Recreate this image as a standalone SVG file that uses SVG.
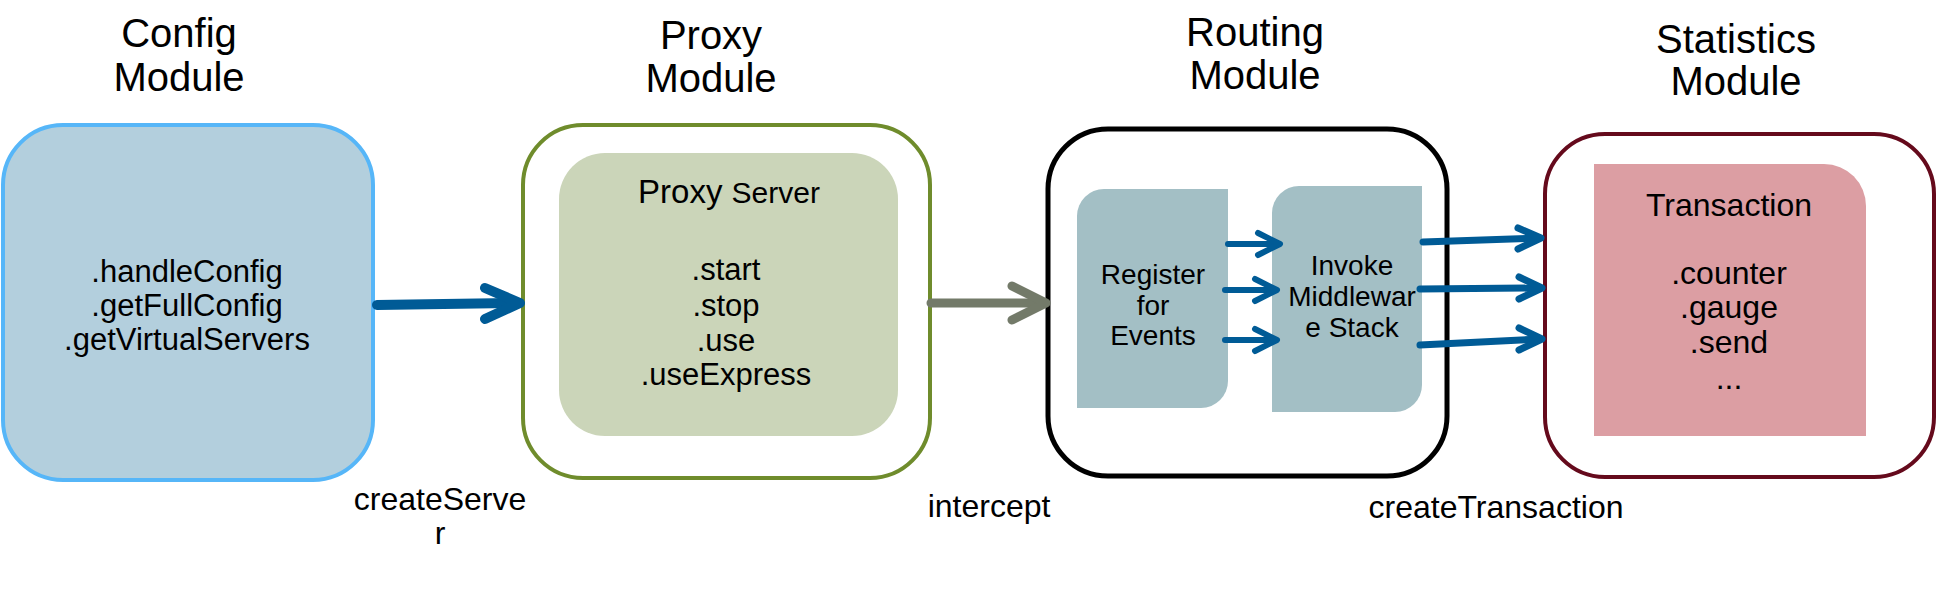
<svg xmlns="http://www.w3.org/2000/svg" width="1937" height="601" viewBox="0 0 1937 601">
<style>
text{font-family:"Liberation Sans",Arial,sans-serif;fill:#000;text-anchor:middle}
.title{font-size:40px}
.body{font-size:31px}
.small{font-size:28px}
.lbl{font-size:32px}
.blue{stroke:#005b96;fill:none;stroke-linecap:round;stroke-linejoin:round}
.grey{stroke:#737a69;fill:none;stroke-linecap:round;stroke-linejoin:round}
</style>
<rect width="1937" height="601" fill="#fff"/>
<g id="config">
<rect x="3" y="125" width="370" height="355" rx="60" ry="60" fill="#b3cfdd" stroke="#56b6f8" stroke-width="4"/>
<text class="title" x="179" y="47">Config</text>
<text class="title" x="179" y="91">Module</text>
<text class="body" x="187" y="282">.handleConfig</text>
<text class="body" x="187" y="316">.getFullConfig</text>
<text class="body" x="187" y="350">.getVirtualServers</text>
</g>
<g id="proxy">
<rect x="523" y="125" width="407" height="353" rx="60" ry="60" fill="#fff" stroke="#6f8c2c" stroke-width="4"/>
<rect x="559" y="153" width="339" height="283" rx="46" ry="46" fill="#cbd5b9"/>
<text class="title" x="711" y="49">Proxy</text>
<text class="title" x="711" y="92">Module</text>
<text x="729" y="203" font-size="33">Proxy <tspan font-size="30">Server</tspan></text>
<text class="body" x="726" y="280">.start</text>
<text class="body" x="726" y="316">.stop</text>
<text class="body" x="726" y="351">.use</text>
<text class="body" x="726" y="385">.useExpress</text>
</g>
<g id="routing">
<rect x="1048" y="129" width="399" height="347" rx="60" ry="60" fill="#fff" stroke="#000" stroke-width="5"/>
<text class="title" x="1255" y="46">Routing</text>
<text class="title" x="1255" y="89">Module</text>
</g>
<g id="register">
<path d="M1077,408 L1077,216 A27,27 0 0 1 1104,189 L1228,189 L1228,381 A27,27 0 0 1 1201,408 Z" fill="#a3bfc5"/>
<text class="small" x="1153" y="284">Register</text>
<text class="small" x="1153" y="315">for</text>
<text class="small" x="1153" y="345">Events</text>
</g>
<g id="invoke">
<path d="M1272,412 L1272,213 A27,27 0 0 1 1299,186 L1422,186 L1422,385 A27,27 0 0 1 1395,412 Z" fill="#a3bfc5"/>
<text class="small" x="1352" y="275">Invoke</text>
<text class="small" x="1352" y="306">Middlewar</text>
<text class="small" x="1352" y="337">e Stack</text>
</g>
<g id="statistics">
<rect x="1545" y="134" width="389" height="343" rx="60" ry="60" fill="#fff" stroke="#650a1c" stroke-width="4"/>
<text class="title" x="1736" y="53">Statistics</text>
<text class="title" x="1736" y="95">Module</text>
</g>
<g id="transaction">
<path d="M1594,164 L1824,164 A42,42 0 0 1 1866,206 L1866,436 L1594,436 Z" fill="#dc9ea3"/>
<text x="1729" y="216" font-size="32">Transaction</text>
<text x="1729" y="284" font-size="32">.counter</text>
<text x="1729" y="318" font-size="32">.gauge</text>
<text x="1729" y="353" font-size="32">.send</text>
<text x="1729" y="389" font-size="32">...</text>
</g>
<g id="connectors">
<path class="blue" d="M377,305 L517,303" stroke-width="10" stroke-linecap="butt"/>
<path class="blue" d="M485,288 L520,303 L485,319" stroke-width="10"/>
<path class="grey" d="M931,303 L1044,303" stroke-width="9" stroke-linecap="butt"/>
<path class="grey" d="M1012,286 L1046,303 L1012,320" stroke-width="9"/>
<path class="blue" d="M1228,244 L1278,244" stroke-width="6" stroke-linecap="butt"/>
<path class="blue" d="M1258,233 L1280,244 L1258,255" stroke-width="6"/>
<path class="blue" d="M1225,290 L1275,290" stroke-width="6" stroke-linecap="butt"/>
<path class="blue" d="M1255,279 L1277,290 L1255,301" stroke-width="6"/>
<path class="blue" d="M1225,340 L1275,340" stroke-width="6" stroke-linecap="butt"/>
<path class="blue" d="M1255,329 L1277,340 L1255,351" stroke-width="6"/>
<path class="blue" d="M1423,242 L1539,238" stroke-width="7" stroke-linecap="butt"/>
<path class="blue" d="M1518,228 L1541,238 L1518,249" stroke-width="7"/>
<path class="blue" d="M1420,289 L1540,288" stroke-width="7" stroke-linecap="butt"/>
<path class="blue" d="M1519,277 L1542,288 L1519,299" stroke-width="7"/>
<path class="blue" d="M1420,345 L1540,339" stroke-width="7" stroke-linecap="butt"/>
<path class="blue" d="M1519,328 L1542,339 L1519,350" stroke-width="7"/>
<text class="lbl" x="440" y="510">createServe</text>
<text class="lbl" x="440" y="544">r</text>
<text class="lbl" x="989" y="517">intercept</text>
<text class="lbl" x="1496" y="518">createTransaction</text>
</g>
</svg>
